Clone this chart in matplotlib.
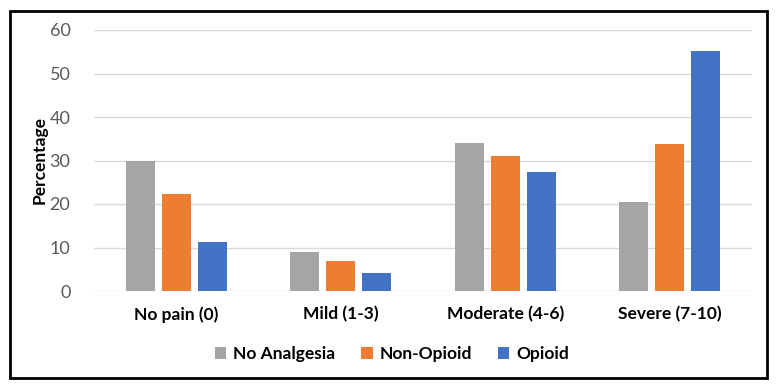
import numpy as np
import matplotlib.pyplot as plt
from matplotlib.patches import Rectangle

plt.rcParams['font.family'] = ['Lato', 'DejaVu Sans']

# pain categories and percentages per treatment group
categories = ['No pain (0)', 'Mild (1-3)', 'Moderate (4-6)', 'Severe (7-10)']
no_analgesia = [30.0, 9.0, 34.1, 20.5]
non_opioid = [22.3, 6.9, 31.1, 33.8]
opioid = [11.3, 4.1, 27.4, 55.2]
series_names = ['No Analgesia', 'Non-Opioid', 'Opioid']
colors = ['#a5a5a5', '#ed7d31', '#4472c4']

fig = plt.figure(figsize=(7.81, 3.91), dpi=100)
ax = fig.add_axes([94 / 781, 1 - 291 / 391, (752 - 94) / 781, (291 - 30) / 391])

x = np.arange(len(categories))
width = 0.176
step = 0.219
for i, (vals, name, c) in enumerate(zip([no_analgesia, non_opioid, opioid], series_names, colors)):
    ax.bar(x + (i - 1) * step, vals, width, color=c, label=name, zorder=3)

ax.set_xlim(-0.5, 3.5)
ax.set_ylim(0, 60)
ax.set_yticks(range(0, 61, 10))
ax.grid(axis='y', color='#d9d9d9', linewidth=1, zorder=0)
for s in ax.spines.values():
    s.set_visible(False)
ax.tick_params(axis='y', length=0, labelsize=13, labelcolor='#595959', pad=17)
ax.tick_params(axis='x', length=0, pad=11)
ax.set_xticks(x)
ax.set_xticklabels(categories, fontsize=12.5, fontweight='bold')
ax.set_ylabel('Percentage', fontsize=12.5, fontweight='bold')
ax.yaxis.set_label_coords((48 - 94) / 658, 0.5)

fig.legend(*ax.get_legend_handles_labels(), loc='center', bbox_to_anchor=(392 / 781, 1 - 354 / 391),
           ncol=3, frameon=False, prop={'weight': 'bold', 'size': 12.5},
           handlelength=0.65, handleheight=0.65, handletextpad=0.4, columnspacing=1.5)

# outer border
fig.patches.append(Rectangle((10 / 781, 1 - 378 / 391), 757 / 781, 367 / 391,
                             transform=fig.transFigure, fill=False, edgecolor='black',
                             linewidth=2, zorder=10))

fig.savefig('out.png', dpi=100)
